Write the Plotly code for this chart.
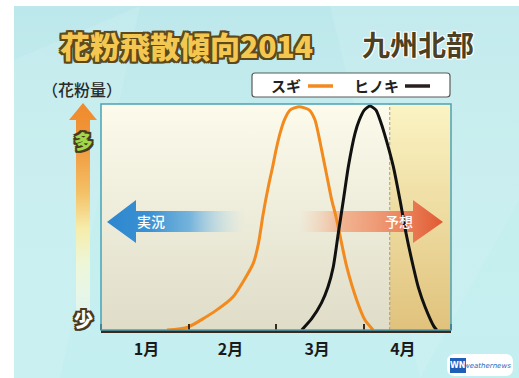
import plotly.graph_objects as go

# ---------------- data ----------------
month_labels = ["1月", "2月", "3月", "4月"]
month_label_pos = [0.52, 1.48, 2.47, 3.45]
month_bounds = [0, 1, 2, 3, 4]
forecast_start = 3.30

sugi_x = [0.754, 0.994, 1.32, 1.51, 1.74, 1.80, 1.848, 1.882, 1.92, 1.962, 2.0,
          2.046, 2.095, 2.16, 2.266, 2.381, 2.446, 2.483, 2.522, 2.56, 2.598, 2.637,
          2.686, 2.808, 2.922, 3.017, 3.11]
sugi_y = [0.0, 0.013, 0.088, 0.147, 0.295, 0.384, 0.501, 0.575, 0.649, 0.723, 0.796,
          0.870, 0.929, 0.973, 0.988, 0.973, 0.929, 0.870, 0.796, 0.723, 0.649, 0.575,
          0.501, 0.28, 0.133, 0.044, 0.0]

hinoki_x = [2.294, 2.408, 2.52, 2.594, 2.655, 2.712, 2.77, 2.827, 2.903, 2.952, 3.009,
            3.074, 3.143, 3.189, 3.238, 3.341, 3.417, 3.486, 3.569, 3.626, 3.703, 3.806, 3.837]
hinoki_y = [0.0, 0.05, 0.12, 0.19, 0.28, 0.428, 0.575, 0.723, 0.870, 0.929, 0.973,
            0.991, 0.973, 0.929, 0.870, 0.723, 0.575, 0.428, 0.28, 0.19, 0.103, 0.015, 0.0]

W, H = 519, 378
PX0, PX1, PY0, PY1 = 101, 451, 104, 330  # plot area in pixels

FONT = "Noto Sans CJK JP"

fig = go.Figure()


def poly(xs, ys, grad=None, color=None, axis=("x", "y"), line=None):
    kw = dict(x=xs + [xs[0]], y=ys + [ys[0]], mode="lines", fill="toself",
              line=line or dict(width=0), hoverinfo="skip", showlegend=False,
              xaxis=axis[0], yaxis=axis[1])
    if grad is not None:
        kw["fillgradient"] = grad
    if color is not None:
        kw["fillcolor"] = color
    fig.add_trace(go.Scatter(**kw))


# ---- layer 1: pixel background ----
poly([14, 519, 519, 14], [6, 6, 378, 378],
     grad=dict(type="vertical", start=6, stop=378,
               colorscale=[[0, "#bde8eb"], [0.5, "#c6eeef"], [1, "#c4eff0"]]))
# light diagonal swoosh
poly([14, 140, 60, 14], [60, 6, 378, 378], color="rgba(255,255,255,0.10)")
poly([330, 519, 519, 420], [6, 6, 200, 378], color="rgba(255,255,255,0.10)")

# plot area background
poly([PX0, PX1, PX1, PX0], [PY0, PY0, PY1, PY1],
     grad=dict(type="vertical", start=PY0, stop=PY1,
               colorscale=[[0, "#fcfbec"], [1, "#dfddc8"]]))

# vertical quantity arrow
poly([76, 90, 90, 97, 83, 69, 76], [330, 330, 120, 120, 103, 120, 120],
     grad=dict(type="vertical", start=103, stop=330,
               colorscale=[[0, "#ef8a2c"], [0.2, "#f19a3e"], [0.4, "#f4c268"],
                           [0.55, "#f6ecaa"], [0.7, "#eef6d6"],
                           [1, "rgba(240,250,245,0.55)"]]))

# ---- layer 2: forecast region (data axes) ----
poly([forecast_start, 4, 4, forecast_start], [0, 0, 1, 1],
     grad=dict(type="vertical", start=0, stop=1,
               colorscale=[[0, "#e0c27c"], [1, "#fbf4c4"]]),
     axis=("x2", "y2"))
fig.add_trace(go.Scatter(x=[forecast_start, forecast_start], y=[0, 1], mode="lines",
                         line=dict(color="#9a9a9a", width=1, dash="3px,2px"),
                         hoverinfo="skip", showlegend=False, xaxis="x2", yaxis="y2"))

# ---- layer 3: arrows (pixels) ----
poly([107, 136, 136, 245, 245, 136, 136], [222, 200, 211, 211, 232, 232, 243],
     grad=dict(type="horizontal", start=107, stop=245,
               colorscale=[[0, "#2d87cf"], [0.3, "#3a90d2"], [0.6, "rgba(95,170,220,0.85)"],
                           [1, "rgba(190,225,240,0)"]]),
     axis=("x3", "y3"))
poly([300, 413, 413, 443, 413, 413, 300], [211, 211, 200, 222, 243, 232, 232],
     grad=dict(type="horizontal", start=300, stop=443,
               colorscale=[[0, "rgba(245,190,160,0)"], [0.3, "rgba(242,160,120,0.75)"],
                           [0.7, "#ec8660"], [1, "#e05a32"]]),
     axis=("x3", "y3"))

# ---- layer 4: curves (data axes) ----
fig.add_trace(go.Scatter(x=sugi_x, y=sugi_y, mode="lines", name="スギ",
                         line=dict(color="#f28a1e", width=3, shape="spline", smoothing=0.6),
                         showlegend=False, xaxis="x4", yaxis="y4"))
fig.add_trace(go.Scatter(x=hinoki_x, y=hinoki_y, mode="lines", name="ヒノキ",
                         line=dict(color="#111111", width=3, shape="spline", smoothing=0.6),
                         showlegend=False, xaxis="x4", yaxis="y4"))

pix_x = dict(range=[0, W], domain=[0, 1], visible=False, fixedrange=True, automargin=False)
pix_y = dict(range=[H, 0], domain=[0, 1], visible=False, fixedrange=True, automargin=False)
dom_x = [PX0 / W, PX1 / W]
dom_y = [(H - PY1) / H, (H - PY0) / H]

shapes = [
    # plot border (teal)
    dict(type="rect", xref="x", yref="y", x0=PX0, x1=PX1, y0=PY0, y1=PY1,
         line=dict(color="#4aa2b6", width=1.5), layer="above"),
    # legend box
    dict(type="path", xref="x", yref="y",
         path="M 255 73 L 447 73 Q 450 73 450 76 L 450 94 Q 450 97 447 97 L 255 97 "
              "Q 252 97 252 94 L 252 76 Q 252 73 255 73 Z",
         fillcolor="white", line=dict(color="#5a5a5a", width=1.2), layer="above"),
    dict(type="line", xref="x", yref="y", x0=308, x1=333, y0=86, y1=86,
         line=dict(color="#f28a1e", width=3.5), layer="above"),
    dict(type="line", xref="x", yref="y", x0=405, x1=430, y0=86, y1=86,
         line=dict(color="#2a1f1f", width=3.5), layer="above"),
    # weathernews badge
    dict(type="path", xref="x", yref="y",
         path="M 455 354 L 505 354 Q 513 354 513 362 L 513 368 Q 513 376 505 376 "
              "L 455 376 Q 447 376 447 368 L 447 362 Q 447 354 455 354 Z",
         fillcolor="white", line=dict(width=0), layer="above"),
    dict(type="rect", xref="x", yref="y", x0=450, x1=466, y0=358, y1=373,
         fillcolor="#1f5fb8", line=dict(width=0), layer="above"),
]


def outline(c, w=2):
    parts = []
    for dx, dy in [(-w, -w), (w, -w), (-w, w), (w, w), (0, w), (0, -w), (w, 0), (-w, 0)]:
        parts.append(f"{dx}px {dy}px 0 {c}")
    return ", ".join(parts)


ann = [
    dict(x=186, y=45, text="花粉飛散傾向2014",
         font=dict(family=FONT, size=30, color="#f4c850", weight=900,
                   shadow=outline("#5c4a1c", 2))),
    dict(x=418, y=44, text="九州北部",
         font=dict(family=FONT, size=28, color="#4b4122", weight=700,
                   shadow=outline("rgba(255,255,255,0.8)", 1))),
    dict(x=82, y=89, text="（花粉量）",
         font=dict(family=FONT, size=16, color="#2a2a2a", weight=500)),
    dict(x=286, y=85, text="スギ", font=dict(family=FONT, size=15, color="#222", weight=700)),
    dict(x=376, y=85, text="ヒノキ", font=dict(family=FONT, size=15, color="#222", weight=700)),
    dict(x=83, y=140, text="多",
         font=dict(family=FONT, size=19, color="#9fd84a", weight=900,
                   shadow=outline("#4a3a1c", 2))),
    dict(x=83, y=318, text="少",
         font=dict(family=FONT, size=19, color="#ffffff", weight=900,
                   shadow=outline("#4a3a1c", 2))),
    dict(x=151, y=221, text="実況", font=dict(family=FONT, size=14, color="white", weight=500)),
    dict(x=399, y=221, text="予想", font=dict(family=FONT, size=14, color="white", weight=500)),
    dict(x=458, y=365.5, text="WN", font=dict(family="DejaVu Sans", size=8, color="white", weight=700)),
    dict(x=487, y=366, text="<i>weathernews</i>",
         font=dict(family="DejaVu Sans", size=7, color="#2a66c0")),
]
for a in ann:
    a.update(xref="x3", yref="y3", showarrow=False, xanchor="center", yanchor="middle")

fig.update_layout(
    width=W, height=H, autosize=False,
    margin=dict(l=0, r=0, t=0, b=0, pad=0, autoexpand=False),
    paper_bgcolor="white", plot_bgcolor="rgba(0,0,0,0)",
    showlegend=False,
    xaxis=pix_x, yaxis=pix_y,
    xaxis2=dict(range=[0, 4], domain=dom_x, visible=False, fixedrange=True, anchor="y2"),
    yaxis2=dict(range=[0, 1], domain=dom_y, visible=False, fixedrange=True, anchor="x2"),
    xaxis3=dict(pix_x, anchor="y3"), yaxis3=dict(pix_y, anchor="x3"),
    xaxis4=dict(range=[0, 4], domain=dom_x, fixedrange=True, anchor="y4", automargin=False,
                showgrid=False, zeroline=False,
                showline=True, linecolor="#3a2a1e", linewidth=3,
                tickmode="array", tickvals=month_label_pos, ticktext=month_labels,
                ticks="", ticklabelstandoff=3,
                tickfont=dict(family=FONT, size=16, color="#1a1a1a", weight=700),
                minor=dict(tickmode="array", tickvals=month_bounds, ticks="inside",
                           ticklen=6, tickwidth=2, tickcolor="#3a2a1e", showgrid=False)),
    yaxis4=dict(range=[0, 1], domain=dom_y, visible=False, fixedrange=True, anchor="x4"),
    shapes=shapes,
    annotations=ann,
)

fig.write_html("out.html")
